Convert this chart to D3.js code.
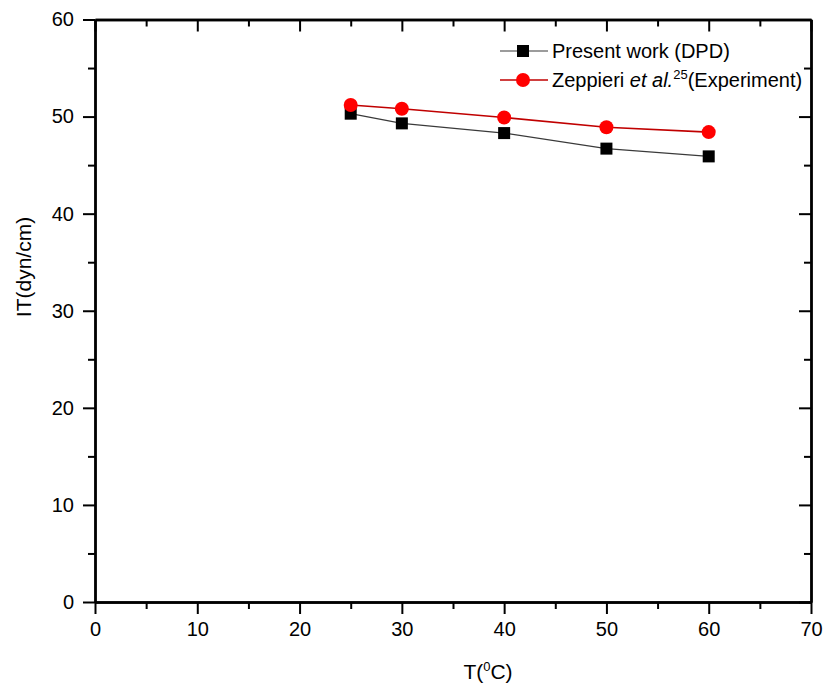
<!DOCTYPE html>
<html>
<head>
<meta charset="utf-8">
<script src="https://cdn.jsdelivr.net/npm/d3@7"></script>
<style>
  body { margin: 0; background: #fff; }
  svg { display: block; }
  text { font-family: "Liberation Sans", Arial, Helvetica, sans-serif; fill: #000; }
</style>
</head>
<body>
<svg id="chart" width="826" height="688"></svg>
<script>
// Interfacial tension vs temperature
const temperatures = [25, 30, 40, 50, 60];
const dpdValues = [50.3, 49.3, 48.3, 46.7, 45.9];
const expValues = [51.2, 50.8, 49.9, 48.9, 48.4];
const xMajorTicks = [0, 10, 20, 30, 40, 50, 60, 70];
const xMinorTicks = [5, 15, 25, 35, 45, 55, 65];
const yMajorTicks = [0, 10, 20, 30, 40, 50, 60];
const yMinorTicks = [5, 15, 25, 35, 45, 55];
const seriesNames = ["Present work (DPD)", "Zeppieri"];

const svg = d3.select("#chart");
const plotLeft = 95, plotRight = 811, plotTop = 19.5, plotBottom = 602;

const x = d3.scaleLinear().domain([0, 70]).range([plotLeft, plotRight]);
const y = d3.scaleLinear().domain([0, 60]).range([plotBottom, plotTop]);

const axisStroke = 2.4;

function styleAxis(g) {
  g.selectAll("path.domain").attr("stroke", "#000").attr("stroke-width", axisStroke);
  g.selectAll(".tick line").attr("stroke", "#000").attr("stroke-width", 2);
  g.selectAll(".tick text").style("font-size", "20px").attr("fill", "#000")
    .style("font-family", "'Liberation Sans', Arial, sans-serif");
}

// bottom axis: outward ticks with labels
svg.append("g").attr("transform", `translate(0,${plotBottom})`)
  .call(d3.axisBottom(x).tickValues(xMajorTicks).tickSize(12).tickSizeOuter(0).tickPadding(8).tickFormat(d3.format("d")))
  .call(styleAxis);
svg.append("g").attr("transform", `translate(0,${plotBottom})`)
  .call(d3.axisBottom(x).tickValues(xMinorTicks).tickSize(7).tickSizeOuter(0).tickFormat(""))
  .call(styleAxis);

// top axis: inward ticks, no labels
svg.append("g").attr("transform", `translate(0,${plotTop})`)
  .call(d3.axisBottom(x).tickValues(xMajorTicks).tickSize(12).tickSizeOuter(0).tickFormat(""))
  .call(styleAxis);
svg.append("g").attr("transform", `translate(0,${plotTop})`)
  .call(d3.axisBottom(x).tickValues(xMinorTicks).tickSize(7).tickSizeOuter(0).tickFormat(""))
  .call(styleAxis);

// left axis: outward ticks with labels
svg.append("g").attr("transform", `translate(${plotLeft},0)`)
  .call(d3.axisLeft(y).tickValues(yMajorTicks).tickSize(12).tickSizeOuter(0).tickPadding(9).tickFormat(d3.format("d")))
  .call(styleAxis);
svg.append("g").attr("transform", `translate(${plotLeft},0)`)
  .call(d3.axisLeft(y).tickValues(yMinorTicks).tickSize(7).tickSizeOuter(0).tickFormat(""))
  .call(styleAxis);

// right axis: inward ticks, no labels
svg.append("g").attr("transform", `translate(${plotRight},0)`)
  .call(d3.axisLeft(y).tickValues(yMajorTicks).tickSize(12).tickSizeOuter(0).tickFormat(""))
  .call(styleAxis);
svg.append("g").attr("transform", `translate(${plotRight},0)`)
  .call(d3.axisLeft(y).tickValues(yMinorTicks).tickSize(7).tickSizeOuter(0).tickFormat(""))
  .call(styleAxis);

// axis titles
const xTitle = svg.append("text")
  .attr("x", 488).attr("y", 679)
  .attr("text-anchor", "middle")
  .style("font-size", "21px");
xTitle.append("tspan").text("T(");
xTitle.append("tspan").attr("dy", -8).style("font-size", "13px").text("0");
xTitle.append("tspan").attr("dy", 8).text("C)");

svg.append("text")
  .attr("transform", "translate(31,267) rotate(-90)")
  .attr("text-anchor", "middle")
  .style("font-size", "21px")
  .text("IT(dyn/cm)");

// series lines and markers
const line = d3.line().x(d => x(d[0])).y(d => y(d[1]));
const dpdPts = temperatures.map((t, i) => [t, dpdValues[i]]);
const expPts = temperatures.map((t, i) => [t, expValues[i]]);

const sq = 12, rad = 7;
const dpdColor = "#000", dpdLine = "#3a3a3a";
const expColor = "#ff0000", expLine = "#c00000";

svg.append("path").datum(dpdPts)
  .attr("d", line).attr("fill", "none")
  .attr("stroke", dpdLine).attr("stroke-width", 1.2);
svg.append("g").selectAll("rect").data(dpdPts).join("rect")
  .attr("x", d => x(d[0]) - sq / 2).attr("y", d => y(d[1]) - sq / 2)
  .attr("width", sq).attr("height", sq).attr("fill", dpdColor);

svg.append("path").datum(expPts)
  .attr("d", line).attr("fill", "none")
  .attr("stroke", expLine).attr("stroke-width", 1.6);
svg.append("g").selectAll("circle").data(expPts).join("circle")
  .attr("cx", d => x(d[0])).attr("cy", d => y(d[1]))
  .attr("r", rad).attr("fill", expColor);

// legend
const legX0 = 500, legX1 = 548, legMid = 523, legText = 552;
const leg1 = svg.append("g").attr("transform", "translate(0,51)");
leg1.append("line").attr("x1", legX0).attr("x2", legX1)
  .attr("stroke", dpdLine).attr("stroke-width", 1.2);
leg1.append("rect").attr("x", legMid - sq / 2).attr("y", -sq / 2)
  .attr("width", sq).attr("height", sq).attr("fill", dpdColor);
leg1.append("text").attr("x", legText).attr("y", 7)
  .style("font-size", "20px").text(seriesNames[0]);

const leg2 = svg.append("g").attr("transform", "translate(0,80)");
leg2.append("line").attr("x1", legX0).attr("x2", legX1)
  .attr("stroke", expLine).attr("stroke-width", 1.6);
leg2.append("circle").attr("cx", legMid).attr("cy", 0)
  .attr("r", rad).attr("fill", expColor);
const t2 = leg2.append("text").attr("x", legText).attr("y", 7).style("font-size", "20px");
t2.append("tspan").text(seriesNames[1] + " ");
t2.append("tspan").style("font-style", "italic").text("et al.");
t2.append("tspan").attr("dy", -8).style("font-size", "13px").text("25");
t2.append("tspan").attr("dy", 8).text("(Experiment)");
</script>
</body>
</html>
